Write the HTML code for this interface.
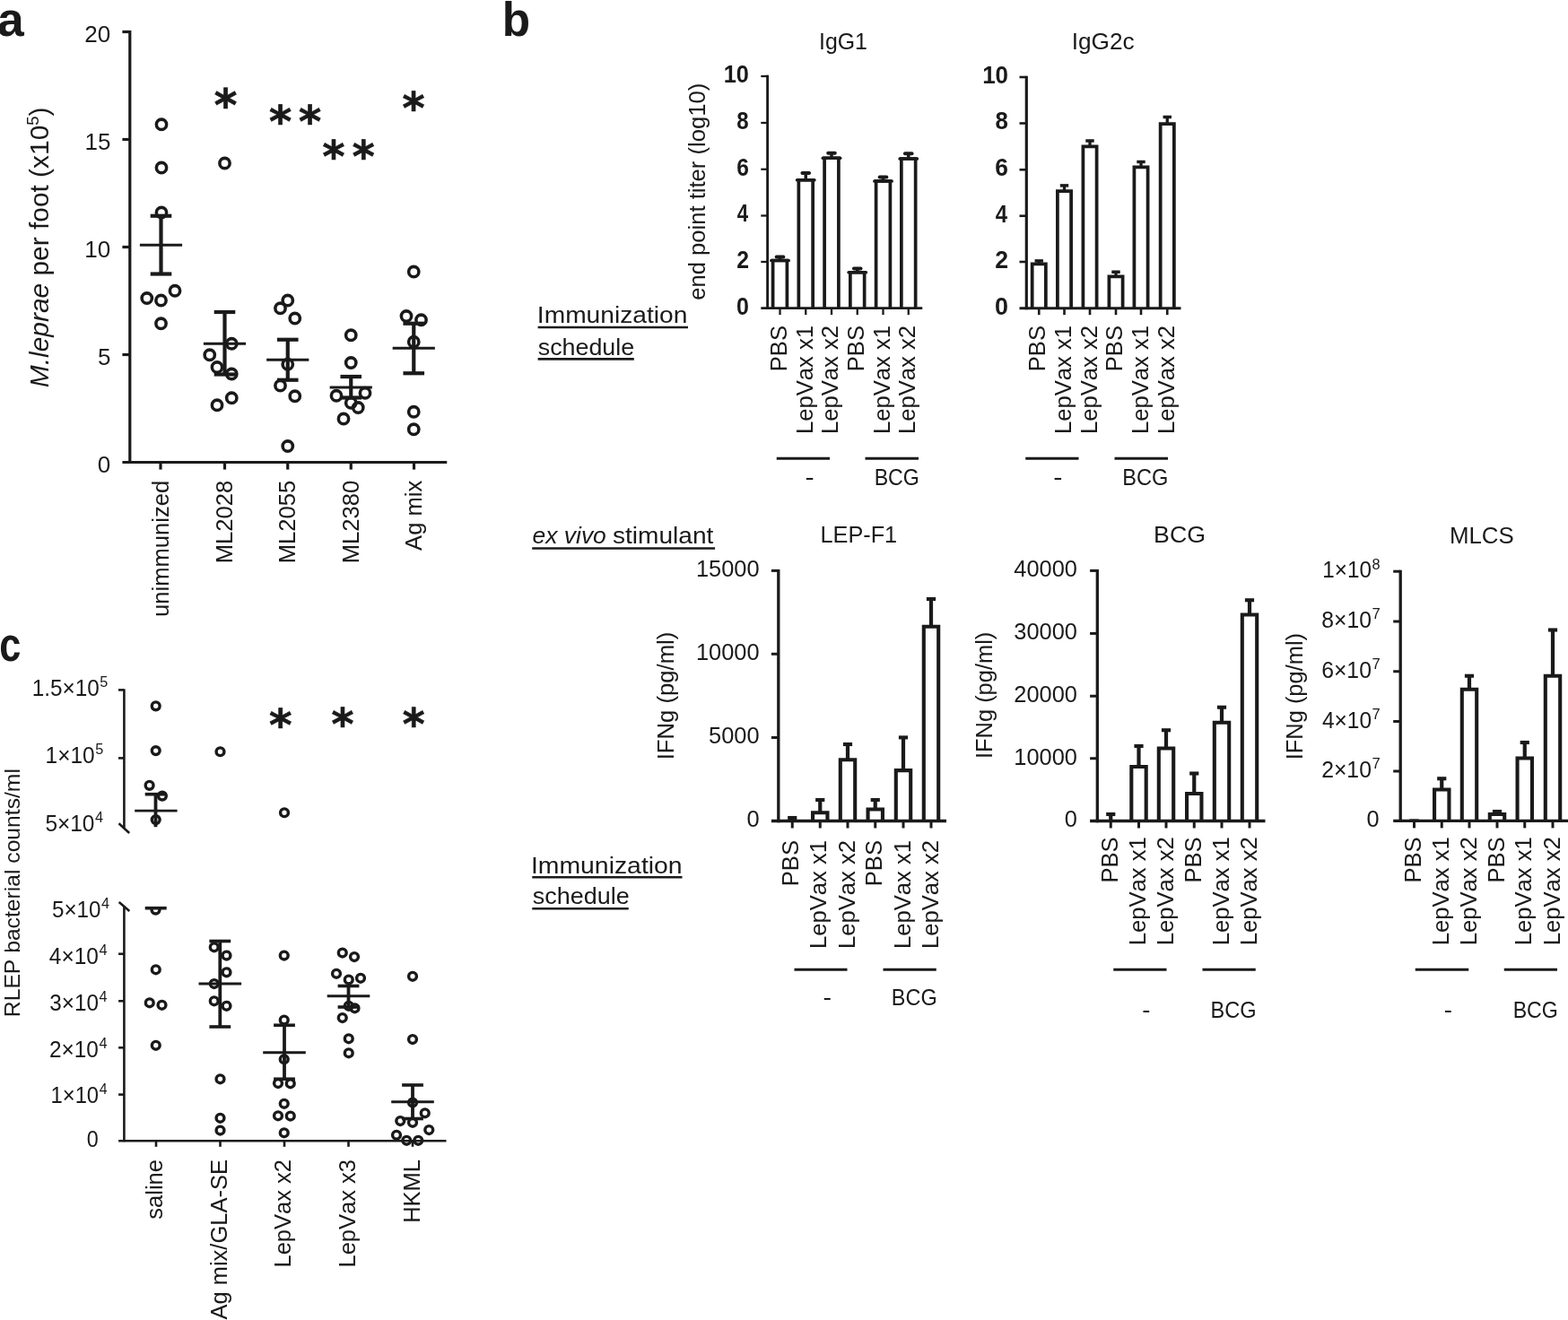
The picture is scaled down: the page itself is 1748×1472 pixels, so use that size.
<!DOCTYPE html>
<html><head><meta charset="utf-8"><title>Figure</title>
<style>
html,body{margin:0;padding:0;background:#fff;}
svg{display:block;}
svg text{font-family:"Liberation Sans",sans-serif;fill:#1a1a1a;stroke:none;font-kerning:none;}
svg text.dv{font-family:"DejaVu Sans",sans-serif;font-weight:bold;stroke:#1a1a1a;stroke-width:0.7px;}
svg line,svg circle,svg rect,svg path{stroke:#1a1a1a;fill:none;}
</style></head>
<body>
<svg width="1748" height="1472" viewBox="0 0 1748 1472">
<rect x="0" y="0" width="1748" height="1472" style="fill:#fff;stroke:none"/>
<g id="panel-a">
<line x1="144.80" y1="33.90" x2="144.80" y2="517.10" stroke-width="3.2"/>
<line x1="136.40" y1="515.50" x2="498.25" y2="515.50" stroke-width="3.2"/>
<line x1="136.40" y1="35.50" x2="144.80" y2="35.50" stroke-width="3.2"/>
<line x1="136.40" y1="155.50" x2="144.80" y2="155.50" stroke-width="3.2"/>
<line x1="136.40" y1="275.50" x2="144.80" y2="275.50" stroke-width="3.2"/>
<line x1="136.40" y1="395.50" x2="144.80" y2="395.50" stroke-width="3.2"/>
<line x1="179.00" y1="515.50" x2="179.00" y2="523.60" stroke-width="3.2"/>
<line x1="250.50" y1="515.50" x2="250.50" y2="523.60" stroke-width="3.2"/>
<line x1="320.75" y1="515.50" x2="320.75" y2="523.60" stroke-width="3.2"/>
<line x1="391.25" y1="515.50" x2="391.25" y2="523.60" stroke-width="3.2"/>
<line x1="461.50" y1="515.50" x2="461.50" y2="523.60" stroke-width="3.2"/>
<text x="94.35" y="47.20" font-size="26.00">20</text>
<text x="94.48" y="167.20" font-size="26.00">15</text>
<text x="94.35" y="287.20" font-size="26.00">10</text>
<text x="108.91" y="407.20" font-size="26.00">5</text>
<text x="108.78" y="527.20" font-size="26.00">0</text>
<text transform="translate(187.60,535.70) rotate(-90)" font-size="25.60" text-anchor="end">unimmunized</text>
<text transform="translate(259.10,535.70) rotate(-90)" font-size="25.60" text-anchor="end">ML2028</text>
<text transform="translate(329.35,535.70) rotate(-90)" font-size="25.60" text-anchor="end">ML2055</text>
<text transform="translate(399.85,535.70) rotate(-90)" font-size="25.60" text-anchor="end">ML2380</text>
<text transform="translate(470.10,535.70) rotate(-90)" font-size="25.60" text-anchor="end">Ag mix</text>
<circle cx="180.00" cy="138.75" r="5.65" stroke-width="3.55"/>
<circle cx="180.00" cy="187.00" r="5.65" stroke-width="3.55"/>
<circle cx="180.00" cy="237.00" r="5.65" stroke-width="3.55"/>
<circle cx="163.75" cy="332.50" r="5.65" stroke-width="3.55"/>
<circle cx="179.50" cy="335.00" r="5.65" stroke-width="3.55"/>
<circle cx="195.00" cy="324.25" r="5.65" stroke-width="3.55"/>
<circle cx="179.50" cy="360.75" r="5.65" stroke-width="3.55"/>
<line x1="155.90" y1="273.25" x2="203.10" y2="273.25" stroke-width="3.0"/>
<line x1="179.50" y1="240.75" x2="179.50" y2="305.50" stroke-width="4.2"/>
<line x1="167.70" y1="240.75" x2="191.30" y2="240.75" stroke-width="4.2"/>
<line x1="167.70" y1="305.50" x2="191.30" y2="305.50" stroke-width="4.2"/>
<circle cx="250.50" cy="182.00" r="5.65" stroke-width="3.55"/>
<circle cx="258.25" cy="383.25" r="5.65" stroke-width="3.55"/>
<circle cx="233.75" cy="395.75" r="5.65" stroke-width="3.55"/>
<circle cx="242.00" cy="409.50" r="5.65" stroke-width="3.55"/>
<circle cx="258.25" cy="417.00" r="5.65" stroke-width="3.55"/>
<circle cx="258.25" cy="443.75" r="5.65" stroke-width="3.55"/>
<circle cx="242.00" cy="451.75" r="5.65" stroke-width="3.55"/>
<line x1="226.90" y1="383.25" x2="274.10" y2="383.25" stroke-width="3.0"/>
<line x1="250.50" y1="348.00" x2="250.50" y2="417.50" stroke-width="4.2"/>
<line x1="238.70" y1="348.00" x2="262.30" y2="348.00" stroke-width="4.2"/>
<line x1="238.70" y1="417.50" x2="262.30" y2="417.50" stroke-width="4.2"/>
<circle cx="320.75" cy="335.00" r="5.65" stroke-width="3.55"/>
<circle cx="312.50" cy="343.75" r="5.65" stroke-width="3.55"/>
<circle cx="328.75" cy="355.00" r="5.65" stroke-width="3.55"/>
<circle cx="320.75" cy="406.25" r="5.65" stroke-width="3.55"/>
<circle cx="312.50" cy="430.00" r="5.65" stroke-width="3.55"/>
<circle cx="328.75" cy="441.75" r="5.65" stroke-width="3.55"/>
<circle cx="320.75" cy="497.50" r="5.65" stroke-width="3.55"/>
<line x1="297.15" y1="401.25" x2="344.35" y2="401.25" stroke-width="3.0"/>
<line x1="320.75" y1="378.75" x2="320.75" y2="423.75" stroke-width="4.2"/>
<line x1="308.95" y1="378.75" x2="332.55" y2="378.75" stroke-width="4.2"/>
<line x1="308.95" y1="423.75" x2="332.55" y2="423.75" stroke-width="4.2"/>
<circle cx="391.25" cy="373.75" r="5.65" stroke-width="3.55"/>
<circle cx="391.25" cy="404.50" r="5.65" stroke-width="3.55"/>
<circle cx="375.00" cy="441.25" r="5.65" stroke-width="3.55"/>
<circle cx="407.00" cy="438.25" r="5.65" stroke-width="3.55"/>
<circle cx="391.25" cy="449.25" r="5.65" stroke-width="3.55"/>
<circle cx="399.25" cy="454.50" r="5.65" stroke-width="3.55"/>
<circle cx="383.00" cy="467.00" r="5.65" stroke-width="3.55"/>
<line x1="367.65" y1="432.00" x2="414.85" y2="432.00" stroke-width="3.0"/>
<line x1="391.25" y1="420.00" x2="391.25" y2="443.50" stroke-width="4.2"/>
<line x1="379.45" y1="420.00" x2="403.05" y2="420.00" stroke-width="4.2"/>
<line x1="379.45" y1="443.50" x2="403.05" y2="443.50" stroke-width="4.2"/>
<circle cx="461.25" cy="303.00" r="5.65" stroke-width="3.55"/>
<circle cx="453.00" cy="352.50" r="5.65" stroke-width="3.55"/>
<circle cx="469.50" cy="356.75" r="5.65" stroke-width="3.55"/>
<circle cx="461.25" cy="381.25" r="5.65" stroke-width="3.55"/>
<circle cx="461.25" cy="459.25" r="5.65" stroke-width="3.55"/>
<circle cx="461.25" cy="478.75" r="5.65" stroke-width="3.55"/>
<line x1="437.65" y1="388.25" x2="484.85" y2="388.25" stroke-width="3.0"/>
<line x1="461.25" y1="360.75" x2="461.25" y2="416.25" stroke-width="4.2"/>
<line x1="449.45" y1="360.75" x2="473.05" y2="360.75" stroke-width="4.2"/>
<line x1="449.45" y1="416.25" x2="473.05" y2="416.25" stroke-width="4.2"/>
</g>
<text x="238.72" y="134.85" font-size="48.96" class="dv">*</text>
<text x="299.94" y="151.72" font-size="48.13" class="dv">*</text>
<text x="332.94" y="151.72" font-size="48.13" class="dv">*</text>
<text x="359.45" y="191.21" font-size="47.71" class="dv">*</text>
<text x="392.65" y="191.21" font-size="47.71" class="dv">*</text>
<text x="448.54" y="136.82" font-size="47.92" class="dv">*</text>
<text x="299.92" y="824.74" font-size="48.75" class="dv">*</text>
<text x="369.45" y="824.21" font-size="47.71" class="dv">*</text>
<text x="448.85" y="824.11" font-size="47.50" class="dv">*</text>
<text x="-2.90" y="39.70" font-size="53.00" font-weight="bold" textLength="29.73" lengthAdjust="spacingAndGlyphs" >a</text>
<text x="559.87" y="39.70" font-size="53.00" font-weight="bold" textLength="31.33" lengthAdjust="spacingAndGlyphs" >b</text>
<text x="-0.73" y="737.40" font-size="53.00" font-weight="bold" textLength="24.08" lengthAdjust="spacingAndGlyphs" >c</text>
<text transform="translate(53.75,432.15) rotate(-90)" font-size="29.90"><tspan font-style="italic">M.leprae</tspan> per foot (x10<tspan font-size="18.54" dy="-10.76">5</tspan><tspan dy="10.76">)</tspan></text>
<g id="igg1">
<line x1="855.60" y1="83.85" x2="855.60" y2="345.10" stroke-width="2.8"/>
<line x1="848.30" y1="343.70" x2="1028.25" y2="343.70" stroke-width="2.8"/>
<line x1="848.30" y1="85.00" x2="855.60" y2="85.00" stroke-width="2.3"/>
<line x1="848.30" y1="137.00" x2="855.60" y2="137.00" stroke-width="2.3"/>
<line x1="848.30" y1="188.75" x2="855.60" y2="188.75" stroke-width="2.3"/>
<line x1="848.30" y1="240.50" x2="855.60" y2="240.50" stroke-width="2.3"/>
<line x1="848.30" y1="292.00" x2="855.60" y2="292.00" stroke-width="2.3"/>
<line x1="869.50" y1="343.70" x2="869.50" y2="351.10" stroke-width="2.3"/>
<line x1="898.25" y1="343.70" x2="898.25" y2="351.10" stroke-width="2.3"/>
<line x1="927.00" y1="343.70" x2="927.00" y2="351.10" stroke-width="2.3"/>
<line x1="955.75" y1="343.70" x2="955.75" y2="351.10" stroke-width="2.3"/>
<line x1="984.50" y1="343.70" x2="984.50" y2="351.10" stroke-width="2.3"/>
<line x1="1012.75" y1="343.70" x2="1012.75" y2="351.10" stroke-width="2.3"/>
<path d="M861.60,343.70V290.50H877.40V343.70" stroke-width="3.7"/>
<line x1="859.90" y1="290.50" x2="879.10" y2="290.50" stroke-width="3.7" stroke-linecap="round"/>
<line x1="869.50" y1="286.50" x2="869.50" y2="290.50" stroke-width="3.5"/>
<line x1="865.65" y1="286.50" x2="873.35" y2="286.50" stroke-width="3.9" stroke-linecap="round"/>
<path d="M890.35,343.70V200.75H906.15V343.70" stroke-width="3.7"/>
<line x1="888.65" y1="200.75" x2="907.85" y2="200.75" stroke-width="3.7" stroke-linecap="round"/>
<line x1="898.25" y1="193.00" x2="898.25" y2="200.75" stroke-width="3.5"/>
<line x1="894.40" y1="193.00" x2="902.10" y2="193.00" stroke-width="3.9" stroke-linecap="round"/>
<path d="M919.10,343.70V176.25H934.90V343.70" stroke-width="3.7"/>
<line x1="917.40" y1="176.25" x2="936.60" y2="176.25" stroke-width="3.7" stroke-linecap="round"/>
<line x1="927.00" y1="170.75" x2="927.00" y2="176.25" stroke-width="3.5"/>
<line x1="923.15" y1="170.75" x2="930.85" y2="170.75" stroke-width="3.9" stroke-linecap="round"/>
<path d="M947.85,343.70V303.75H963.65V343.70" stroke-width="3.7"/>
<line x1="946.15" y1="303.75" x2="965.35" y2="303.75" stroke-width="3.7" stroke-linecap="round"/>
<line x1="955.75" y1="299.50" x2="955.75" y2="303.75" stroke-width="3.5"/>
<line x1="951.90" y1="299.50" x2="959.60" y2="299.50" stroke-width="3.9" stroke-linecap="round"/>
<path d="M976.60,343.70V202.00H992.40V343.70" stroke-width="3.7"/>
<line x1="974.90" y1="202.00" x2="994.10" y2="202.00" stroke-width="3.7" stroke-linecap="round"/>
<line x1="984.50" y1="197.50" x2="984.50" y2="202.00" stroke-width="3.5"/>
<line x1="980.65" y1="197.50" x2="988.35" y2="197.50" stroke-width="3.9" stroke-linecap="round"/>
<path d="M1004.85,343.70V177.00H1020.65V343.70" stroke-width="3.7"/>
<line x1="1003.15" y1="177.00" x2="1022.35" y2="177.00" stroke-width="3.7" stroke-linecap="round"/>
<line x1="1012.75" y1="171.25" x2="1012.75" y2="177.00" stroke-width="3.5"/>
<line x1="1008.90" y1="171.25" x2="1016.60" y2="171.25" stroke-width="3.9" stroke-linecap="round"/>
<text x="806.78" y="91.90" font-size="27.00" font-weight="bold" textLength="28.19" lengthAdjust="spacingAndGlyphs" >10</text>
<text x="821.28" y="143.90" font-size="27.00" font-weight="bold" textLength="13.37" lengthAdjust="spacingAndGlyphs" >8</text>
<text x="821.14" y="195.65" font-size="27.00" font-weight="bold" textLength="13.65" lengthAdjust="spacingAndGlyphs" >6</text>
<text x="821.67" y="247.40" font-size="27.00" font-weight="bold" textLength="12.37" lengthAdjust="spacingAndGlyphs" >4</text>
<text x="821.13" y="298.90" font-size="27.00" font-weight="bold" textLength="13.79" lengthAdjust="spacingAndGlyphs" >2</text>
<text x="821.00" y="350.60" font-size="27.00" font-weight="bold" textLength="13.93" lengthAdjust="spacingAndGlyphs" >0</text>
<text x="913.01" y="54.50" font-size="24.88" textLength="53.93" lengthAdjust="spacingAndGlyphs" >IgG1</text>
<text transform="translate(785.75,334.77) rotate(-90)" font-size="25.60" textLength="241.95" lengthAdjust="spacingAndGlyphs">end point titer (log10)</text>
<text transform="translate(876.90,363.00) rotate(-90)" font-size="25.60" text-anchor="end">PBS</text>
<text transform="translate(905.65,363.00) rotate(-90)" font-size="25.60" text-anchor="end">LepVax x1</text>
<text transform="translate(934.40,363.00) rotate(-90)" font-size="25.60" text-anchor="end">LepVax x2</text>
<text transform="translate(963.15,363.00) rotate(-90)" font-size="25.60" text-anchor="end">PBS</text>
<text transform="translate(991.90,363.00) rotate(-90)" font-size="25.60" text-anchor="end">LepVax x1</text>
<text transform="translate(1020.15,363.00) rotate(-90)" font-size="25.60" text-anchor="end">LepVax x2</text>
<line x1="865.75" y1="511.25" x2="925.00" y2="511.25" stroke-width="3.2"/>
<line x1="964.50" y1="511.25" x2="1024.00" y2="511.25" stroke-width="3.2"/>
<text x="897.62" y="540.75" font-size="26.00" textLength="10.20" lengthAdjust="spacingAndGlyphs" >-</text>
<text x="974.64" y="540.50" font-size="25.60" textLength="50.28" lengthAdjust="spacingAndGlyphs" >BCG</text>
</g>
<g id="igg2c">
<line x1="1144.30" y1="84.70" x2="1144.30" y2="345.35" stroke-width="3.2"/>
<line x1="1136.50" y1="343.75" x2="1316.50" y2="343.75" stroke-width="3.2"/>
<line x1="1136.50" y1="86.00" x2="1144.30" y2="86.00" stroke-width="2.6"/>
<line x1="1136.50" y1="137.50" x2="1144.30" y2="137.50" stroke-width="2.6"/>
<line x1="1136.50" y1="189.25" x2="1144.30" y2="189.25" stroke-width="2.6"/>
<line x1="1136.50" y1="240.75" x2="1144.30" y2="240.75" stroke-width="2.6"/>
<line x1="1136.50" y1="292.00" x2="1144.30" y2="292.00" stroke-width="2.6"/>
<line x1="1158.25" y1="343.75" x2="1158.25" y2="351.15" stroke-width="2.6"/>
<line x1="1186.50" y1="343.75" x2="1186.50" y2="351.15" stroke-width="2.6"/>
<line x1="1215.00" y1="343.75" x2="1215.00" y2="351.15" stroke-width="2.6"/>
<line x1="1244.00" y1="343.75" x2="1244.00" y2="351.15" stroke-width="2.6"/>
<line x1="1272.00" y1="343.75" x2="1272.00" y2="351.15" stroke-width="2.6"/>
<line x1="1301.25" y1="343.75" x2="1301.25" y2="351.15" stroke-width="2.6"/>
<path d="M1150.65,343.75V294.40H1165.85V343.75" stroke-width="3.75"/>
<line x1="1158.25" y1="290.90" x2="1158.25" y2="294.40" stroke-width="3.3"/>
<line x1="1153.55" y1="290.90" x2="1162.95" y2="290.90" stroke-width="3.5"/>
<path d="M1178.90,343.75V213.20H1194.10V343.75" stroke-width="3.75"/>
<line x1="1186.50" y1="206.90" x2="1186.50" y2="213.20" stroke-width="3.3"/>
<line x1="1181.80" y1="206.90" x2="1191.20" y2="206.90" stroke-width="3.5"/>
<path d="M1207.40,343.75V163.25H1222.60V343.75" stroke-width="3.75"/>
<line x1="1215.00" y1="157.00" x2="1215.00" y2="163.25" stroke-width="3.3"/>
<line x1="1210.30" y1="157.00" x2="1219.70" y2="157.00" stroke-width="3.5"/>
<path d="M1236.40,343.75V308.25H1251.60V343.75" stroke-width="3.75"/>
<line x1="1244.00" y1="303.25" x2="1244.00" y2="308.25" stroke-width="3.3"/>
<line x1="1239.30" y1="303.25" x2="1248.70" y2="303.25" stroke-width="3.5"/>
<path d="M1264.40,343.75V186.25H1279.60V343.75" stroke-width="3.75"/>
<line x1="1272.00" y1="180.50" x2="1272.00" y2="186.25" stroke-width="3.3"/>
<line x1="1267.30" y1="180.50" x2="1276.70" y2="180.50" stroke-width="3.5"/>
<path d="M1293.65,343.75V138.00H1308.85V343.75" stroke-width="3.75"/>
<line x1="1301.25" y1="130.50" x2="1301.25" y2="138.00" stroke-width="3.3"/>
<line x1="1296.55" y1="130.50" x2="1305.95" y2="130.50" stroke-width="3.5"/>
<text x="1095.14" y="92.90" font-size="27.00" font-weight="bold" textLength="28.96" lengthAdjust="spacingAndGlyphs" >10</text>
<text x="1109.42" y="144.40" font-size="27.00" font-weight="bold" textLength="14.38" lengthAdjust="spacingAndGlyphs" >8</text>
<text x="1109.28" y="196.15" font-size="27.00" font-weight="bold" textLength="14.68" lengthAdjust="spacingAndGlyphs" >6</text>
<text x="1109.84" y="247.65" font-size="27.00" font-weight="bold" textLength="13.31" lengthAdjust="spacingAndGlyphs" >4</text>
<text x="1109.27" y="298.90" font-size="27.00" font-weight="bold" textLength="14.83" lengthAdjust="spacingAndGlyphs" >2</text>
<text x="1109.12" y="350.65" font-size="27.00" font-weight="bold" textLength="14.99" lengthAdjust="spacingAndGlyphs" >0</text>
<text x="1194.64" y="55.00" font-size="26.22" textLength="69.96" lengthAdjust="spacingAndGlyphs" >IgG2c</text>
<text transform="translate(1165.25,363.00) rotate(-90)" font-size="25.60" text-anchor="end">PBS</text>
<text transform="translate(1194.00,363.00) rotate(-90)" font-size="25.60" text-anchor="end">LepVax x1</text>
<text transform="translate(1223.25,363.00) rotate(-90)" font-size="25.60" text-anchor="end">LepVax x2</text>
<text transform="translate(1251.25,363.00) rotate(-90)" font-size="25.60" text-anchor="end">PBS</text>
<text transform="translate(1279.50,363.00) rotate(-90)" font-size="25.60" text-anchor="end">LepVax x1</text>
<text transform="translate(1308.75,363.00) rotate(-90)" font-size="25.60" text-anchor="end">LepVax x2</text>
<line x1="1143.25" y1="511.25" x2="1202.50" y2="511.25" stroke-width="3.2"/>
<line x1="1242.50" y1="511.25" x2="1302.00" y2="511.25" stroke-width="3.2"/>
<text x="1174.37" y="540.75" font-size="26.00" textLength="10.20" lengthAdjust="spacingAndGlyphs" >-</text>
<text x="1251.36" y="540.50" font-size="25.60" textLength="51.08" lengthAdjust="spacingAndGlyphs" >BCG</text>
</g>
<g id="lepf1">
<line x1="867.80" y1="634.90" x2="867.80" y2="917.15" stroke-width="3.3"/>
<line x1="859.90" y1="915.50" x2="1055.00" y2="915.50" stroke-width="3.3"/>
<line x1="859.90" y1="636.40" x2="867.80" y2="636.40" stroke-width="3.0"/>
<line x1="859.90" y1="729.30" x2="867.80" y2="729.30" stroke-width="3.0"/>
<line x1="859.90" y1="822.50" x2="867.80" y2="822.50" stroke-width="3.0"/>
<line x1="883.25" y1="915.50" x2="883.25" y2="923.50" stroke-width="3.0"/>
<line x1="914.25" y1="915.50" x2="914.25" y2="923.50" stroke-width="3.0"/>
<line x1="945.00" y1="915.50" x2="945.00" y2="923.50" stroke-width="3.0"/>
<line x1="975.75" y1="915.50" x2="975.75" y2="923.50" stroke-width="3.0"/>
<line x1="1007.00" y1="915.50" x2="1007.00" y2="923.50" stroke-width="3.0"/>
<line x1="1038.00" y1="915.50" x2="1038.00" y2="923.50" stroke-width="3.0"/>
<line x1="883.25" y1="912.00" x2="883.25" y2="915.50" stroke-width="4.2"/>
<line x1="878.15" y1="912.00" x2="888.35" y2="912.00" stroke-width="4.1"/>
<path d="M906.05,915.50V906.30H922.45V915.50" stroke-width="4.1"/>
<line x1="914.25" y1="892.00" x2="914.25" y2="906.30" stroke-width="4.2"/>
<line x1="909.15" y1="892.00" x2="919.35" y2="892.00" stroke-width="4.1"/>
<path d="M936.80,915.50V847.30H953.20V915.50" stroke-width="4.1"/>
<line x1="945.00" y1="830.00" x2="945.00" y2="847.30" stroke-width="4.2"/>
<line x1="939.90" y1="830.00" x2="950.10" y2="830.00" stroke-width="4.1"/>
<path d="M967.55,915.50V902.50H983.95V915.50" stroke-width="4.1"/>
<line x1="975.75" y1="892.00" x2="975.75" y2="902.50" stroke-width="4.2"/>
<line x1="970.65" y1="892.00" x2="980.85" y2="892.00" stroke-width="4.1"/>
<path d="M998.80,915.50V859.10H1015.20V915.50" stroke-width="4.1"/>
<line x1="1007.00" y1="822.40" x2="1007.00" y2="859.10" stroke-width="4.2"/>
<line x1="1001.90" y1="822.40" x2="1012.10" y2="822.40" stroke-width="4.1"/>
<path d="M1029.80,915.50V698.75H1046.20V915.50" stroke-width="4.1"/>
<line x1="1038.00" y1="668.00" x2="1038.00" y2="698.75" stroke-width="4.2"/>
<line x1="1032.90" y1="668.00" x2="1043.10" y2="668.00" stroke-width="4.1"/>
<text x="775.98" y="643.30" font-size="25.40">15000</text>
<text x="775.98" y="736.20" font-size="25.40">10000</text>
<text x="790.07" y="829.40" font-size="25.40">5000</text>
<text x="832.49" y="922.40" font-size="25.40">0</text>
<text x="914.48" y="604.50" font-size="25.27" textLength="85.67" lengthAdjust="spacingAndGlyphs" >LEP-F1</text>
<text transform="translate(751.25,847.31) rotate(-90)" font-size="25.67" textLength="142.63" lengthAdjust="spacingAndGlyphs">IFNg (pg/ml)</text>
<text transform="translate(890.00,937.00) rotate(-90)" font-size="25.60" text-anchor="end">PBS</text>
<text transform="translate(921.25,937.00) rotate(-90)" font-size="25.60" text-anchor="end">LepVax x1</text>
<text transform="translate(952.50,937.00) rotate(-90)" font-size="25.60" text-anchor="end">LepVax x2</text>
<text transform="translate(983.25,937.00) rotate(-90)" font-size="25.60" text-anchor="end">PBS</text>
<text transform="translate(1014.50,937.00) rotate(-90)" font-size="25.60" text-anchor="end">LepVax x1</text>
<text transform="translate(1045.75,937.00) rotate(-90)" font-size="25.60" text-anchor="end">LepVax x2</text>
<line x1="885.50" y1="1081.25" x2="944.50" y2="1081.25" stroke-width="3.2"/>
<line x1="984.50" y1="1081.25" x2="1043.75" y2="1081.25" stroke-width="3.2"/>
<text x="917.46" y="1121.25" font-size="26.00" textLength="9.52" lengthAdjust="spacingAndGlyphs" >-</text>
<text x="993.87" y="1120.50" font-size="25.60" textLength="50.82" lengthAdjust="spacingAndGlyphs" >BCG</text>
</g>
<g id="bcg">
<line x1="1223.30" y1="634.90" x2="1223.30" y2="917.15" stroke-width="3.3"/>
<line x1="1215.10" y1="915.50" x2="1410.50" y2="915.50" stroke-width="3.3"/>
<line x1="1215.10" y1="636.40" x2="1223.30" y2="636.40" stroke-width="3.0"/>
<line x1="1215.10" y1="706.40" x2="1223.30" y2="706.40" stroke-width="3.0"/>
<line x1="1215.10" y1="776.25" x2="1223.30" y2="776.25" stroke-width="3.0"/>
<line x1="1215.10" y1="845.75" x2="1223.30" y2="845.75" stroke-width="3.0"/>
<line x1="1238.25" y1="915.50" x2="1238.25" y2="923.50" stroke-width="3.0"/>
<line x1="1269.50" y1="915.50" x2="1269.50" y2="923.50" stroke-width="3.0"/>
<line x1="1300.00" y1="915.50" x2="1300.00" y2="923.50" stroke-width="3.0"/>
<line x1="1331.25" y1="915.50" x2="1331.25" y2="923.50" stroke-width="3.0"/>
<line x1="1362.00" y1="915.50" x2="1362.00" y2="923.50" stroke-width="3.0"/>
<line x1="1393.00" y1="915.50" x2="1393.00" y2="923.50" stroke-width="3.0"/>
<line x1="1238.25" y1="908.00" x2="1238.25" y2="915.50" stroke-width="4.2"/>
<line x1="1233.15" y1="908.00" x2="1243.35" y2="908.00" stroke-width="4.1"/>
<path d="M1261.30,915.50V855.00H1277.70V915.50" stroke-width="4.1"/>
<line x1="1269.50" y1="832.00" x2="1269.50" y2="855.00" stroke-width="4.2"/>
<line x1="1264.40" y1="832.00" x2="1274.60" y2="832.00" stroke-width="4.1"/>
<path d="M1291.80,915.50V834.50H1308.20V915.50" stroke-width="4.1"/>
<line x1="1300.00" y1="814.25" x2="1300.00" y2="834.50" stroke-width="4.2"/>
<line x1="1294.90" y1="814.25" x2="1305.10" y2="814.25" stroke-width="4.1"/>
<path d="M1323.05,915.50V885.00H1339.45V915.50" stroke-width="4.1"/>
<line x1="1331.25" y1="862.50" x2="1331.25" y2="885.00" stroke-width="4.2"/>
<line x1="1326.15" y1="862.50" x2="1336.35" y2="862.50" stroke-width="4.1"/>
<path d="M1353.80,915.50V805.75H1370.20V915.50" stroke-width="4.1"/>
<line x1="1362.00" y1="788.75" x2="1362.00" y2="805.75" stroke-width="4.2"/>
<line x1="1356.90" y1="788.75" x2="1367.10" y2="788.75" stroke-width="4.1"/>
<path d="M1384.80,915.50V685.50H1401.20V915.50" stroke-width="4.1"/>
<line x1="1393.00" y1="669.25" x2="1393.00" y2="685.50" stroke-width="4.2"/>
<line x1="1387.90" y1="669.25" x2="1398.10" y2="669.25" stroke-width="4.1"/>
<text x="1130.28" y="643.30" font-size="25.40">40000</text>
<text x="1130.28" y="713.30" font-size="25.40">30000</text>
<text x="1130.28" y="783.15" font-size="25.40">20000</text>
<text x="1130.28" y="852.65" font-size="25.40">10000</text>
<text x="1186.79" y="922.40" font-size="25.40">0</text>
<text x="1286.12" y="604.50" font-size="26.67" textLength="57.81" lengthAdjust="spacingAndGlyphs" >BCG</text>
<text transform="translate(1106.25,846.04) rotate(-90)" font-size="25.44" textLength="141.35" lengthAdjust="spacingAndGlyphs">IFNg (pg/ml)</text>
<text transform="translate(1245.75,933.30) rotate(-90)" font-size="25.60" text-anchor="end">PBS</text>
<text transform="translate(1277.00,933.30) rotate(-90)" font-size="25.60" text-anchor="end">LepVax x1</text>
<text transform="translate(1308.00,933.30) rotate(-90)" font-size="25.60" text-anchor="end">LepVax x2</text>
<text transform="translate(1339.25,933.30) rotate(-90)" font-size="25.60" text-anchor="end">PBS</text>
<text transform="translate(1370.25,933.30) rotate(-90)" font-size="25.60" text-anchor="end">LepVax x1</text>
<text transform="translate(1401.00,933.30) rotate(-90)" font-size="25.60" text-anchor="end">LepVax x2</text>
<line x1="1241.25" y1="1081.25" x2="1300.50" y2="1081.25" stroke-width="3.2"/>
<line x1="1340.50" y1="1081.25" x2="1399.75" y2="1081.25" stroke-width="3.2"/>
<text x="1273.26" y="1135.25" font-size="26.00" textLength="9.18" lengthAdjust="spacingAndGlyphs" >-</text>
<text x="1349.61" y="1135.00" font-size="25.60" textLength="51.08" lengthAdjust="spacingAndGlyphs" >BCG</text>
</g>
<g id="mlcs">
<line x1="1561.20" y1="635.70" x2="1561.20" y2="917.05" stroke-width="3.3"/>
<line x1="1553.20" y1="915.40" x2="1748.00" y2="915.40" stroke-width="3.3"/>
<line x1="1553.20" y1="637.20" x2="1561.20" y2="637.20" stroke-width="3.0"/>
<line x1="1553.20" y1="693.00" x2="1561.20" y2="693.00" stroke-width="3.0"/>
<line x1="1553.20" y1="748.75" x2="1561.20" y2="748.75" stroke-width="3.0"/>
<line x1="1553.20" y1="804.50" x2="1561.20" y2="804.50" stroke-width="3.0"/>
<line x1="1553.20" y1="860.00" x2="1561.20" y2="860.00" stroke-width="3.0"/>
<line x1="1576.50" y1="915.40" x2="1576.50" y2="923.40" stroke-width="3.0"/>
<line x1="1607.25" y1="915.40" x2="1607.25" y2="923.40" stroke-width="3.0"/>
<line x1="1638.00" y1="915.40" x2="1638.00" y2="923.40" stroke-width="3.0"/>
<line x1="1669.00" y1="915.40" x2="1669.00" y2="923.40" stroke-width="3.0"/>
<line x1="1699.75" y1="915.40" x2="1699.75" y2="923.40" stroke-width="3.0"/>
<line x1="1731.00" y1="915.40" x2="1731.00" y2="923.40" stroke-width="3.0"/>
<path d="M1599.05,915.40V880.50H1615.45V915.40" stroke-width="4.1"/>
<line x1="1607.25" y1="868.25" x2="1607.25" y2="880.50" stroke-width="4.2"/>
<line x1="1602.15" y1="868.25" x2="1612.35" y2="868.25" stroke-width="4.1"/>
<path d="M1629.80,915.40V768.75H1646.20V915.40" stroke-width="4.1"/>
<line x1="1638.00" y1="753.75" x2="1638.00" y2="768.75" stroke-width="4.2"/>
<line x1="1632.90" y1="753.75" x2="1643.10" y2="753.75" stroke-width="4.1"/>
<path d="M1660.80,915.40V908.00H1677.20V915.40" stroke-width="4.1"/>
<line x1="1669.00" y1="905.00" x2="1669.00" y2="908.00" stroke-width="4.2"/>
<line x1="1663.90" y1="905.00" x2="1674.10" y2="905.00" stroke-width="4.1"/>
<path d="M1691.55,915.40V845.50H1707.95V915.40" stroke-width="4.1"/>
<line x1="1699.75" y1="828.00" x2="1699.75" y2="845.50" stroke-width="4.2"/>
<line x1="1694.65" y1="828.00" x2="1704.85" y2="828.00" stroke-width="4.1"/>
<path d="M1722.80,915.40V753.75H1739.20V915.40" stroke-width="4.1"/>
<line x1="1731.00" y1="702.50" x2="1731.00" y2="753.75" stroke-width="4.2"/>
<line x1="1725.90" y1="702.50" x2="1736.10" y2="702.50" stroke-width="4.1"/>
<line x1="1571.30" y1="914.20" x2="1581.70" y2="914.20" stroke-width="1.6"/>
<text x="1474.28" y="644.20" font-size="25.3" textLength="64.29" lengthAdjust="spacingAndGlyphs">1×10<tspan font-size="17.0" dx="0.6" dy="-9.7">8</tspan></text>
<text x="1473.29" y="700.00" font-size="25.3" textLength="65.46" lengthAdjust="spacingAndGlyphs">8×10<tspan font-size="17.0" dx="0.6" dy="-9.7">7</tspan></text>
<text x="1473.16" y="755.75" font-size="25.3" textLength="65.59" lengthAdjust="spacingAndGlyphs">6×10<tspan font-size="17.0" dx="0.6" dy="-9.7">7</tspan></text>
<text x="1473.91" y="811.50" font-size="25.3" textLength="64.83" lengthAdjust="spacingAndGlyphs">4×10<tspan font-size="17.0" dx="0.6" dy="-9.7">7</tspan></text>
<text x="1473.16" y="867.00" font-size="25.3" textLength="65.59" lengthAdjust="spacingAndGlyphs">2×10<tspan font-size="17.0" dx="0.6" dy="-9.7">7</tspan></text>
<text x="1523.44" y="922.40" font-size="25.30">0</text>
<text x="1615.93" y="605.50" font-size="25.85" textLength="71.82" lengthAdjust="spacingAndGlyphs" >MLCS</text>
<text transform="translate(1452.25,847.29) rotate(-90)" font-size="25.44" textLength="141.35" lengthAdjust="spacingAndGlyphs">IFNg (pg/ml)</text>
<text transform="translate(1583.50,933.30) rotate(-90)" font-size="25.60" text-anchor="end">PBS</text>
<text transform="translate(1614.75,933.30) rotate(-90)" font-size="25.60" text-anchor="end">LepVax x1</text>
<text transform="translate(1645.50,933.30) rotate(-90)" font-size="25.60" text-anchor="end">LepVax x2</text>
<text transform="translate(1676.50,933.30) rotate(-90)" font-size="25.60" text-anchor="end">PBS</text>
<text transform="translate(1707.25,933.30) rotate(-90)" font-size="25.60" text-anchor="end">LepVax x1</text>
<text transform="translate(1738.50,933.30) rotate(-90)" font-size="25.60" text-anchor="end">LepVax x2</text>
<line x1="1577.75" y1="1081.25" x2="1637.25" y2="1081.25" stroke-width="3.2"/>
<line x1="1676.75" y1="1081.25" x2="1736.00" y2="1081.25" stroke-width="3.2"/>
<text x="1609.76" y="1135.00" font-size="26.00" textLength="9.18" lengthAdjust="spacingAndGlyphs" >-</text>
<text x="1686.64" y="1135.00" font-size="25.60" textLength="50.28" lengthAdjust="spacingAndGlyphs" >BCG</text>
</g>
<g id="cal">
<text x="598.86" y="360.40" font-size="26.40" textLength="167.52" lengthAdjust="spacingAndGlyphs" >Immunization</text>
<line x1="599.60" y1="365.00" x2="767.00" y2="365.00" stroke-width="2.6"/>
<text x="599.80" y="395.80" font-size="26.40" textLength="107.29" lengthAdjust="spacingAndGlyphs" >schedule</text>
<line x1="599.60" y1="400.40" x2="706.80" y2="400.40" stroke-width="2.6"/>
<text x="591.95" y="973.75" font-size="26.40" textLength="168.70" lengthAdjust="spacingAndGlyphs" >Immunization</text>
<line x1="593.25" y1="978.20" x2="760.50" y2="978.20" stroke-width="2.6"/>
<text x="593.89" y="1008.25" font-size="26.40" textLength="107.80" lengthAdjust="spacingAndGlyphs" >schedule</text>
<line x1="593.25" y1="1013.20" x2="700.75" y2="1013.20" stroke-width="2.6"/>
</g>
<text x="593.47" y="606.40" font-size="26.40" font-style="italic" textLength="82.38" lengthAdjust="spacingAndGlyphs" >ex vivo</text>
<text x="682.96" y="606.40" font-size="26.40" textLength="112.43" lengthAdjust="spacingAndGlyphs" >stimulant</text>
<line x1="593.20" y1="611.50" x2="797.10" y2="611.50" stroke-width="2.5"/>
<g id="panel-c">
<line x1="138.40" y1="768.40" x2="138.40" y2="923.00" stroke-width="2.6"/>
<line x1="132.00" y1="769.40" x2="138.40" y2="769.40" stroke-width="2.6"/>
<line x1="132.00" y1="845.40" x2="138.40" y2="845.40" stroke-width="2.6"/>
<line x1="132.50" y1="918.20" x2="144.20" y2="929.00" stroke-width="2.6"/>
<line x1="132.70" y1="1005.90" x2="144.30" y2="1016.10" stroke-width="2.6"/>
<line x1="138.40" y1="1010.70" x2="138.40" y2="1273.20" stroke-width="2.6"/>
<line x1="132.10" y1="1272.20" x2="497.50" y2="1272.20" stroke-width="2.6"/>
<line x1="132.10" y1="1063.75" x2="138.40" y2="1063.75" stroke-width="2.6"/>
<line x1="132.10" y1="1116.30" x2="138.40" y2="1116.30" stroke-width="2.6"/>
<line x1="132.10" y1="1168.30" x2="138.40" y2="1168.30" stroke-width="2.6"/>
<line x1="132.10" y1="1220.60" x2="138.40" y2="1220.60" stroke-width="2.6"/>
<line x1="174.00" y1="1272.20" x2="174.00" y2="1278.80" stroke-width="2.6"/>
<line x1="245.50" y1="1272.20" x2="245.50" y2="1278.80" stroke-width="2.6"/>
<line x1="317.00" y1="1272.20" x2="317.00" y2="1278.80" stroke-width="2.6"/>
<line x1="388.50" y1="1272.20" x2="388.50" y2="1278.80" stroke-width="2.6"/>
<line x1="460.00" y1="1272.20" x2="460.00" y2="1278.80" stroke-width="2.6"/>
<text x="35.68" y="775.50" font-size="25.0" textLength="84.69" lengthAdjust="spacingAndGlyphs">1.5×10<tspan font-size="16.7" dx="0.6" dy="-10.0">5</tspan></text>
<text x="50.57" y="851.00" font-size="25.0" textLength="64.70" lengthAdjust="spacingAndGlyphs">1×10<tspan font-size="16.7" dx="0.6" dy="-10.0">5</tspan></text>
<text x="50.42" y="927.40" font-size="25.0" textLength="64.69" lengthAdjust="spacingAndGlyphs">5×10<tspan font-size="16.7" dx="0.6" dy="-10.0">4</tspan></text>
<text x="57.93" y="1022.60" font-size="25.0" textLength="64.07" lengthAdjust="spacingAndGlyphs">5×10<tspan font-size="16.7" dx="0.6" dy="-10.0">4</tspan></text>
<text x="54.81" y="1074.60" font-size="25.0" textLength="64.70" lengthAdjust="spacingAndGlyphs">4×10<tspan font-size="16.7" dx="0.6" dy="-10.0">4</tspan></text>
<text x="55.33" y="1126.50" font-size="25.0" textLength="64.17" lengthAdjust="spacingAndGlyphs">3×10<tspan font-size="16.7" dx="0.6" dy="-10.0">4</tspan></text>
<text x="55.08" y="1178.50" font-size="25.0" textLength="64.42" lengthAdjust="spacingAndGlyphs">2×10<tspan font-size="16.7" dx="0.6" dy="-10.0">4</tspan></text>
<text x="56.52" y="1230.40" font-size="25.0" textLength="62.98" lengthAdjust="spacingAndGlyphs">1×10<tspan font-size="16.7" dx="0.6" dy="-10.0">4</tspan></text>
<text x="96.77" y="1279.30" font-size="25.00" textLength="12.98" lengthAdjust="spacingAndGlyphs" >0</text>
<text transform="translate(21.90,1134.17) rotate(-90)" font-size="24.68" textLength="277.09" lengthAdjust="spacingAndGlyphs">RLEP bacterial counts/ml</text>
<text transform="translate(181.30,1293.00) rotate(-90)" font-size="25.50" text-anchor="end">saline</text>
<text transform="translate(252.80,1293.00) rotate(-90)" font-size="25.50" text-anchor="end">Ag mix/GLA-SE</text>
<text transform="translate(324.10,1293.00) rotate(-90)" font-size="25.50" text-anchor="end">LepVax x2</text>
<text transform="translate(396.30,1293.00) rotate(-90)" font-size="25.50" text-anchor="end">LepVax x3</text>
<text transform="translate(467.90,1293.00) rotate(-90)" font-size="25.50" text-anchor="end">HKML</text>
<circle cx="173.70" cy="787.30" r="4.4" stroke-width="3.45"/>
<circle cx="173.70" cy="837.10" r="4.4" stroke-width="3.45"/>
<circle cx="166.60" cy="875.80" r="4.4" stroke-width="3.45"/>
<circle cx="180.90" cy="887.60" r="4.4" stroke-width="3.45"/>
<circle cx="173.70" cy="914.10" r="4.4" stroke-width="3.45"/>
<circle cx="245.50" cy="838.25" r="4.4" stroke-width="3.45"/>
<circle cx="317.00" cy="906.25" r="4.4" stroke-width="3.45"/>
<line x1="150.20" y1="904.20" x2="197.60" y2="904.20" stroke-width="2.8"/>
<line x1="161.70" y1="885.70" x2="185.70" y2="885.70" stroke-width="3.6"/>
<line x1="173.50" y1="885.70" x2="173.50" y2="922.20" stroke-width="3.8"/>
<line x1="161.70" y1="1012.70" x2="185.70" y2="1012.70" stroke-width="3.6"/>
<path d="M169.10,1013 V1014.6 A4.4,4.4 0 0 0 177.90,1014.6 V1013" stroke-width="3.45"/>
<circle cx="173.75" cy="1081.25" r="4.4" stroke-width="3.45"/>
<circle cx="166.75" cy="1118.25" r="4.4" stroke-width="3.45"/>
<circle cx="180.50" cy="1120.75" r="4.4" stroke-width="3.45"/>
<circle cx="173.75" cy="1165.75" r="4.4" stroke-width="3.45"/>
<circle cx="238.75" cy="1056.25" r="4.4" stroke-width="3.45"/>
<circle cx="252.50" cy="1065.50" r="4.4" stroke-width="3.45"/>
<circle cx="252.50" cy="1084.25" r="4.4" stroke-width="3.45"/>
<circle cx="238.75" cy="1097.00" r="4.4" stroke-width="3.45"/>
<circle cx="238.75" cy="1116.25" r="4.4" stroke-width="3.45"/>
<circle cx="252.50" cy="1121.75" r="4.4" stroke-width="3.45"/>
<circle cx="245.50" cy="1203.25" r="4.4" stroke-width="3.45"/>
<circle cx="245.50" cy="1246.75" r="4.4" stroke-width="3.45"/>
<circle cx="245.50" cy="1260.50" r="4.4" stroke-width="3.45"/>
<line x1="221.50" y1="1097.00" x2="269.10" y2="1097.00" stroke-width="2.8"/>
<line x1="245.30" y1="1049.50" x2="245.30" y2="1145.00" stroke-width="3.8"/>
<line x1="233.40" y1="1049.50" x2="257.20" y2="1049.50" stroke-width="3.6"/>
<line x1="233.40" y1="1145.00" x2="257.20" y2="1145.00" stroke-width="3.6"/>
<circle cx="316.75" cy="1065.50" r="4.4" stroke-width="3.45"/>
<circle cx="316.75" cy="1137.50" r="4.4" stroke-width="3.45"/>
<circle cx="316.75" cy="1181.25" r="4.4" stroke-width="3.45"/>
<circle cx="310.00" cy="1208.00" r="4.4" stroke-width="3.45"/>
<circle cx="323.75" cy="1208.25" r="4.4" stroke-width="3.45"/>
<circle cx="316.75" cy="1230.75" r="4.4" stroke-width="3.45"/>
<circle cx="310.00" cy="1244.25" r="4.4" stroke-width="3.45"/>
<circle cx="323.75" cy="1244.50" r="4.4" stroke-width="3.45"/>
<circle cx="316.75" cy="1263.25" r="4.4" stroke-width="3.45"/>
<line x1="293.20" y1="1173.75" x2="340.80" y2="1173.75" stroke-width="2.8"/>
<line x1="317.00" y1="1143.25" x2="317.00" y2="1203.25" stroke-width="3.8"/>
<line x1="305.10" y1="1143.25" x2="328.90" y2="1143.25" stroke-width="3.6"/>
<line x1="305.10" y1="1203.25" x2="328.90" y2="1203.25" stroke-width="3.6"/>
<circle cx="381.75" cy="1062.50" r="4.4" stroke-width="3.45"/>
<circle cx="395.00" cy="1067.00" r="4.4" stroke-width="3.45"/>
<circle cx="375.00" cy="1085.75" r="4.4" stroke-width="3.45"/>
<circle cx="388.75" cy="1092.50" r="4.4" stroke-width="3.45"/>
<circle cx="402.00" cy="1090.75" r="4.4" stroke-width="3.45"/>
<circle cx="388.75" cy="1121.75" r="4.4" stroke-width="3.45"/>
<circle cx="395.50" cy="1124.25" r="4.4" stroke-width="3.45"/>
<circle cx="381.75" cy="1135.00" r="4.4" stroke-width="3.45"/>
<circle cx="388.75" cy="1158.25" r="4.4" stroke-width="3.45"/>
<circle cx="388.75" cy="1174.25" r="4.4" stroke-width="3.45"/>
<line x1="364.70" y1="1110.75" x2="412.30" y2="1110.75" stroke-width="2.8"/>
<line x1="388.50" y1="1099.50" x2="388.50" y2="1123.00" stroke-width="3.8"/>
<line x1="376.60" y1="1099.50" x2="400.40" y2="1099.50" stroke-width="3.6"/>
<line x1="376.60" y1="1123.00" x2="400.40" y2="1123.00" stroke-width="3.6"/>
<circle cx="460.00" cy="1088.75" r="4.4" stroke-width="3.45"/>
<circle cx="460.00" cy="1159.00" r="4.4" stroke-width="3.45"/>
<circle cx="460.00" cy="1229.50" r="4.4" stroke-width="3.45"/>
<circle cx="473.75" cy="1241.25" r="4.4" stroke-width="3.45"/>
<circle cx="446.25" cy="1250.00" r="4.4" stroke-width="3.45"/>
<circle cx="460.00" cy="1251.75" r="4.4" stroke-width="3.45"/>
<circle cx="478.25" cy="1260.00" r="4.4" stroke-width="3.45"/>
<circle cx="442.00" cy="1265.75" r="4.4" stroke-width="3.45"/>
<circle cx="453.25" cy="1271.75" r="4.4" stroke-width="3.45"/>
<circle cx="466.25" cy="1271.75" r="4.4" stroke-width="3.45"/>
<line x1="436.20" y1="1228.75" x2="483.80" y2="1228.75" stroke-width="2.8"/>
<line x1="460.00" y1="1210.00" x2="460.00" y2="1247.50" stroke-width="3.8"/>
<line x1="448.10" y1="1210.00" x2="471.90" y2="1210.00" stroke-width="3.6"/>
<line x1="448.10" y1="1247.50" x2="471.90" y2="1247.50" stroke-width="3.6"/>
</g>
</svg>
</body></html>
